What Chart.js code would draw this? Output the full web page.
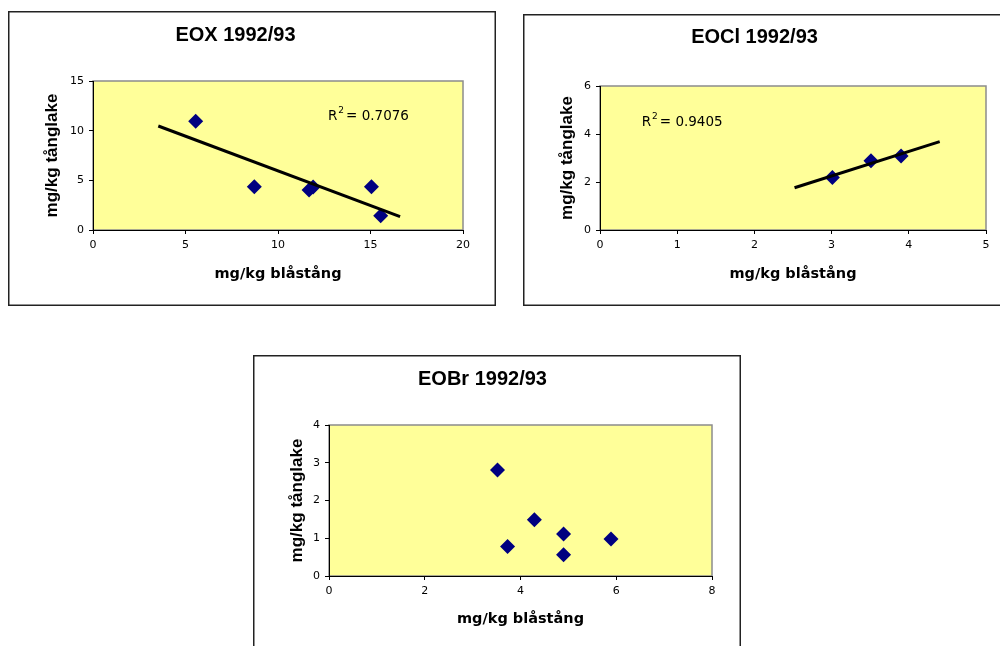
<!DOCTYPE html>
<html>
<head>
<meta charset="utf-8">
<script src="https://cdn.jsdelivr.net/npm/chart.js@4"></script>
<style>
  body { margin: 0; background: #fff; overflow: hidden; width: 1000px; height: 646px; position: relative; }
  canvas { position: absolute; }
</style>
</head>
<body>
<canvas id="eox" width="488" height="295" style="left:8px;top:11px"></canvas>
<canvas id="eocl" width="488" height="292" style="left:523px;top:14px"></canvas>
<canvas id="eobr" width="488" height="300" style="left:253px;top:355px"></canvas>
<script>
// EOX
const eoxX = [5.55, 8.72, 11.68, 11.9, 15.05, 15.55];
const eoxY = [10.95, 4.36, 4.03, 4.33, 4.36, 1.44];
const eoxTrendX = [3.53, 16.6];
const eoxTrendY = [10.47, 1.34];
const eoxR2 = '0.7076';

// EOCl
const eoclX = [3.01, 3.51, 3.9];
const eoclY = [2.19, 2.89, 3.08];
const eoclTrendX = [2.52, 4.4];
const eoclTrendY = [1.76, 3.68];
const eoclR2 = '0.9405';

// EOBr
const eobrX = [3.52, 3.73, 4.29, 4.9, 4.9, 5.89];
const eobrY = [2.81, 0.78, 1.49, 1.11, 0.56, 0.98];

const xLabel = 'mg/kg blåstång';
const yLabel = 'mg/kg tånglake';

function pts(xs, ys) {
    return xs.map((x, i) => ({ x: x, y: ys[i] }));
}

// frame + yellow plot area
const framePlugin = {
    id: 'frame',
    beforeDraw(chart) {
        const ctx = chart.ctx;
        const a = chart.chartArea;
        ctx.save();
        ctx.fillStyle = '#fff';
        ctx.fillRect(0, 0, chart.width, chart.height);
        ctx.strokeStyle = '#222';
        ctx.lineWidth = 1.5;
        ctx.strokeRect(0.75, 0.75, chart.width - 1.5, chart.height - 1.5);
        ctx.fillStyle = '#ffff99';
        ctx.fillRect(a.left, a.top, a.right - a.left, a.bottom - a.top);
        ctx.strokeStyle = '#8c8c8c';
        ctx.lineWidth = 1.5;
        ctx.strokeRect(a.left, a.top, a.right - a.left, a.bottom - a.top);
        ctx.restore();
    }
};

// R² label placed in data coordinates
const r2Plugin = {
    id: 'r2',
    afterDatasetsDraw(chart, args, opts) {
        if (!opts.text) return;
        const ctx = chart.ctx;
        const x = chart.scales.x.getPixelForValue(opts.x);
        const y = chart.scales.y.getPixelForValue(opts.y);
        ctx.save();
        ctx.fillStyle = '#000';
        ctx.textBaseline = 'middle';
        ctx.font = '13.5px "DejaVu Sans"';
        ctx.fillText('R', x, y);
        let w = ctx.measureText('R').width + 1;
        ctx.font = '9px "DejaVu Sans"';
        ctx.fillText('2', x + w, y - 6);
        w += ctx.measureText('2').width + 2;
        ctx.font = '13.5px "DejaVu Sans"';
        ctx.fillText('= ' + opts.text, x + w, y);
        ctx.restore();
    }
};

function makeChart(id, cfg) {
    const canvas = document.getElementById(id);
    const W = canvas.width, H = canvas.height;
    const datasets = [];
    if (cfg.trendX) {
        datasets.push({
            type: 'line',
            data: pts(cfg.trendX, cfg.trendY),
            borderColor: '#000',
            borderWidth: 3,
            pointRadius: 0,
            showLine: true,
            order: 0
        });
    }
    datasets.push({
        data: pts(cfg.xs, cfg.ys),
        pointStyle: 'rectRot',
        pointRadius: 7.5,
        backgroundColor: '#000080',
        borderWidth: 0,
        order: 1
    });
    return new Chart(canvas, {
        type: 'scatter',
        data: { datasets: datasets },
        plugins: [framePlugin, r2Plugin],
        options: {
            responsive: false,
            animation: false,
            events: [],
            layout: { padding: { left: 0, top: 0, right: W - cfg.area.right, bottom: 0 } },
            plugins: {
                legend: { display: false },
                tooltip: { enabled: false },
                title: {
                    display: true,
                    text: cfg.title,
                    color: '#000',
                    font: { family: 'Liberation Sans', size: 20, weight: 'bold', lineHeight: 1.2 },
                    padding: { top: cfg.titleY - 12, bottom: cfg.area.top - cfg.titleY - 12 }
                },
                r2: cfg.r2 || {}
            },
            scales: {
                x: {
                    type: 'linear',
                    min: 0, max: cfg.xMax,
                    afterFit: s => { s.height = H - cfg.area.bottom; },
                    ticks: {
                        stepSize: cfg.xStep, color: '#000', padding: 5,
                        font: { family: 'DejaVu Sans', size: 11 }
                    },
                    grid: { drawOnChartArea: false, drawTicks: true, tickLength: 4, color: '#000' },
                    border: { display: true, color: '#000', width: 1 },
                    title: {
                        display: true, text: xLabel, color: '#000',
                        font: { family: 'DejaVu Sans', size: 14.5, weight: 'bold', lineHeight: 1.2 },
                        padding: { top: 0, bottom: cfg.xTitleB }
                    }
                },
                y: {
                    type: 'linear',
                    min: 0, max: cfg.yMax,
                    afterFit: s => { s.width = cfg.area.left; },
                    ticks: {
                        stepSize: cfg.yStep, color: '#000', padding: 5,
                        font: { family: 'DejaVu Sans', size: 11 }
                    },
                    grid: { drawOnChartArea: false, drawTicks: true, tickLength: 4, color: '#000' },
                    border: { display: true, color: '#000', width: 1 },
                    title: {
                        display: true, text: yLabel, color: '#000',
                        font: { family: 'Liberation Sans', size: 17, weight: 'bold', lineHeight: 1.2 },
                        padding: { top: 34, bottom: 0 }
                    }
                }
            }
        }
    });
}

makeChart('eox', {
    title: 'EOX 1992/93', titleY: 24,
    area: { left: 85, top: 70, right: 455, bottom: 219 },
    xs: eoxX, ys: eoxY, trendX: eoxTrendX, trendY: eoxTrendY,
    xMax: 20, xStep: 5, yMax: 15, yStep: 5, xTitleB: 23,
    r2: { text: eoxR2, x: 12.7, y: 11.4 }
});

makeChart('eocl', {
    title: 'EOCl 1992/93', titleY: 23,
    area: { left: 77, top: 72, right: 463, bottom: 216 },
    xs: eoclX, ys: eoclY, trendX: eoclTrendX, trendY: eoclTrendY,
    xMax: 5, xStep: 1, yMax: 6, yStep: 2, xTitleB: 23,
    r2: { text: eoclR2, x: 0.54, y: 4.46 }
});

makeChart('eobr', {
    title: 'EOBr 1992/93', titleY: 24,
    area: { left: 76, top: 70, right: 459, bottom: 221 },
    xs: eobrX, ys: eobrY,
    xMax: 8, xStep: 2, yMax: 4, yStep: 1, xTitleB: 27
});
</script>
</body>
</html>
